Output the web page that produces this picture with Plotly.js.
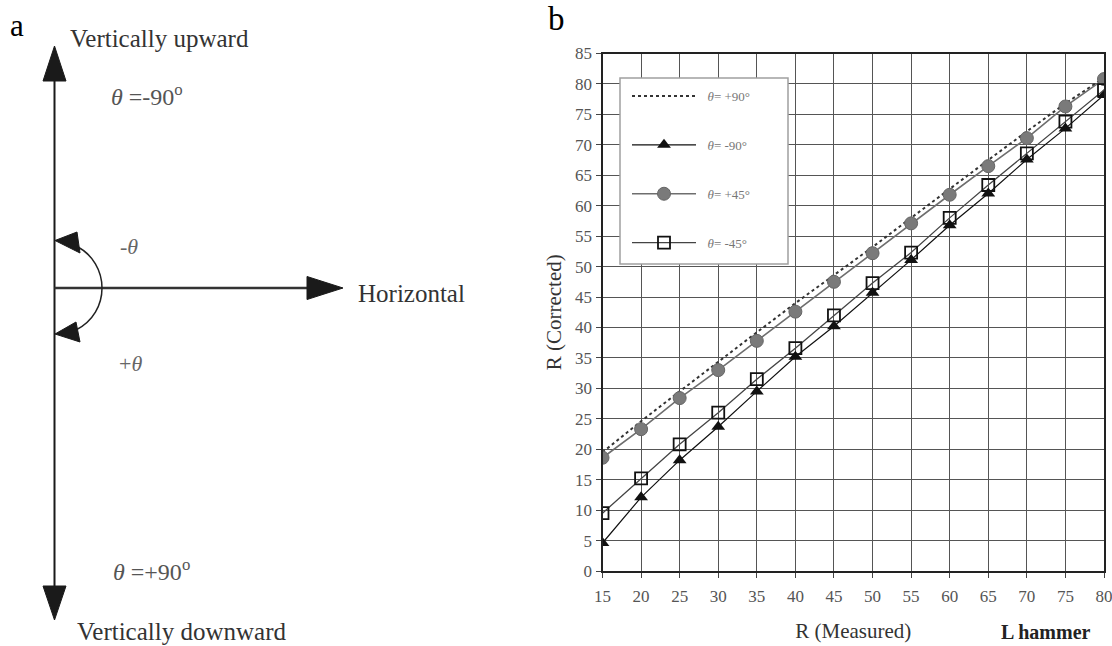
<!DOCTYPE html>
<html>
<head>
<meta charset="utf-8">
<script src="https://cdn.plot.ly/plotly-3.0.1.min.js"></script>
<style>html,body{margin:0;padding:0;background:#fff;}#chart{width:1112px;height:646px;}</style>
</head>
<body>
<div id="chart"></div>
<script>
// ---- Data ----
const rMeasured = [15, 20, 25, 30, 35, 40, 45, 50, 55, 60, 65, 70, 75, 80];
const thetaPlus90  = [19.5, 24.6, 29.5, 34.4, 39.2, 44.0, 48.6, 53.2, 58.0, 62.8, 67.5, 72.2, 76.8, 81.0];
const thetaMinus90 = [4.6, 12.1, 18.2, 23.7, 29.5, 35.2, 40.2, 45.7, 51.1, 56.8, 62.0, 67.6, 72.7, 78.2];
const thetaPlus45  = [18.6, 23.3, 28.4, 33.0, 37.8, 42.6, 47.5, 52.2, 57.1, 61.8, 66.5, 71.1, 76.3, 80.8];
const thetaMinus45 = [9.5, 15.2, 20.8, 26.0, 31.5, 36.6, 42.0, 47.3, 52.3, 58.0, 63.4, 68.6, 73.8, 79.0];
const seriesNames = ['\u00a0\u00a0<i>θ</i>= +90°', '\u00a0\u00a0<i>θ</i>= -90°', '\u00a0\u00a0<i>θ</i>= +45°', '\u00a0\u00a0<i>θ</i>= -45°'];
const xTicks = [15, 20, 25, 30, 35, 40, 45, 50, 55, 60, 65, 70, 75, 80];
const yTicks = [0, 5, 10, 15, 20, 25, 30, 35, 40, 45, 50, 55, 60, 65, 70, 75, 80, 85];

// ---- helpers: figure pixel -> paper fraction (margins are zero) ----
const W = 1112, H = 646;
const px = x => x / W;
const py = y => 1 - y / H;
const SERIF = 'Liberation Serif, Times New Roman, serif';

function poly(pts, color) {
  return {type:'path', xref:'paper', yref:'paper', layer:'above',
    path: 'M' + pts.map(p => px(p[0]) + ',' + py(p[1])).join('L') + 'Z',
    fillcolor: color, line:{color: color, width: 1}};
}
function seg(x0, y0, x1, y1, color, w) {
  return {type:'line', xref:'paper', yref:'paper', layer:'above',
    x0: px(x0), y0: py(y0), x1: px(x1), y1: py(y1), line:{color: color, width: w}};
}
function txt(x, y, text, size, color, extra) {
  return Object.assign({xref:'paper', yref:'paper', x: px(x), y: py(y), text: text, showarrow:false,
    xanchor:'center', yanchor:'middle', font:{family: SERIF, size: size, color: color}}, extra || {});
}

// arc of the angle sign (cubic bezier approximation of a circular arc)
const cx = 55, cy = 288, r = 47, a0 = -64 * Math.PI / 180, a1 = 64 * Math.PI / 180;
const k = 4 / 3 * Math.tan((a1 - a0) / 4) * r;
const P0 = [cx + r * Math.cos(a0), cy + r * Math.sin(a0)];
const P3 = [cx + r * Math.cos(a1), cy + r * Math.sin(a1)];
const P1 = [P0[0] - k * Math.sin(a0), P0[1] + k * Math.cos(a0)];
const P2 = [P3[0] + k * Math.sin(a1), P3[1] - k * Math.cos(a1)];
const arcPath = 'M' + px(P0[0]) + ',' + py(P0[1]) + ' C' +
  px(P1[0]) + ',' + py(P1[1]) + ' ' + px(P2[0]) + ',' + py(P2[1]) + ' ' + px(P3[0]) + ',' + py(P3[1]);

const ink = '#1a1a1a';
const shapes = [
  // panel a
  seg(54.5, 78, 54.5, 590, ink, 2),
  seg(54.5, 288, 309, 288, '#333', 2.5),
  poly([[54.5, 46], [43, 81], [66, 81]], ink),
  poly([[54.5, 620], [43, 586], [66, 586]], ink),
  poly([[343, 288], [307, 276.5], [307, 299.5]], ink),
  {type:'path', xref:'paper', yref:'paper', layer:'above', path: arcPath, line:{color:'#222', width:1.5}},
  poly([[55, 240.5], [77, 232], [80, 253]], ink),
  poly([[55, 334], [76, 322], [80, 342]], ink),
  // legend box of panel b
  {type:'rect', xref:'paper', yref:'paper', layer:'above',
   x0: px(620), x1: px(788), y0: py(78), y1: py(264),
   fillcolor:'#ffffff', line:{color:'#a0a0a0', width:1.5}}
];

const annotations = [
  txt(17, 25, 'a', 31, '#000'),
  txt(159, 38, 'Vertically upward', 25, '#333'),
  txt(147, 95, '<i>θ</i> =-90<sup>o</sup>', 24, '#555'),
  txt(129, 247, '-<i>θ</i>', 22, '#666'),
  txt(130, 363, '+<i>θ</i>', 22, '#666'),
  txt(411, 294, 'Horizontal', 25, '#333'),
  txt(151, 570, '<i>θ</i> =+90<sup>o</sup>', 24, '#555'),
  txt(181, 631, 'Vertically downward', 25, '#333'),
  txt(556, 19, 'b', 33, '#000'),
  txt(1046, 632, '<b>L hammer</b>', 20, '#222')
];

const traces = [
  {x: rMeasured, y: thetaPlus90, name: seriesNames[0], legendgroup:'g1', mode:'lines',
   line:{color:'#333', width:2, dash:'dot'}},
  {x: rMeasured, y: thetaMinus90, name: seriesNames[1], legendgroup:'g2', mode:'lines+markers',
   line:{color:'#111', width:1.2}, marker:{symbol:'triangle-up', size:12, color:'#111'}},
  {x: rMeasured, y: thetaPlus45, name: seriesNames[2], legendgroup:'g3', mode:'lines+markers',
   line:{color:'#6e6e6e', width:1.6}, marker:{symbol:'circle', size:13, color:'#7a7a7a', line:{color:'#666', width:1}}},
  {x: rMeasured, y: thetaMinus45, name: seriesNames[3], legendgroup:'g4', mode:'lines+markers',
   line:{color:'#444', width:1.3}, marker:{symbol:'square-open', size:12, color:'#111', line:{width:1.8}}}
];

const axisCommon = {
  showgrid: true, gridcolor:'#555', gridwidth: 1,
  showline: true, linecolor:'#222', linewidth: 2, mirror: true,
  ticks:'outside', ticklen: 5, tickcolor:'#444', tickwidth: 1,
  zeroline: false, automargin: false, ticklabeloverflow: 'allow',
  tickfont:{family: SERIF, size: 17, color:'#555'}
};

const layout = {
  width: W, height: H,
  margin:{l:0, r:0, t:0, b:0},
  paper_bgcolor:'#fff', plot_bgcolor:'#fff',
  showlegend: true,
  legend:{x: px(627), y: py(81), xanchor:'left', yanchor:'top',
    bgcolor:'rgba(0,0,0,0)', borderwidth:0, tracegroupgap: 29, itemwidth: 64,
    traceorder:'grouped',
    font:{family: SERIF, size: 13, color:'#777'}},
  xaxis: Object.assign({}, axisCommon, {
    domain:[px(602.5), px(1104)], range:[15, 80], tickvals: xTicks, ticklabelstandoff: 4,
    title:{text:'R (Measured)', standoff: 18, font:{family: SERIF, size: 21, color:'#333'}}
  }),
  yaxis: Object.assign({}, axisCommon, {
    domain:[py(571), py(53.5)], range:[0, 85], tickvals: yTicks,
    title:{text:'R (Corrected)', standoff: 8, font:{family: SERIF, size: 21, color:'#333'}}
  }),
  shapes: shapes,
  annotations: annotations
};

Plotly.newPlot('chart', traces, layout, {displayModeBar:false, staticPlot:true});
</script>
</body>
</html>
